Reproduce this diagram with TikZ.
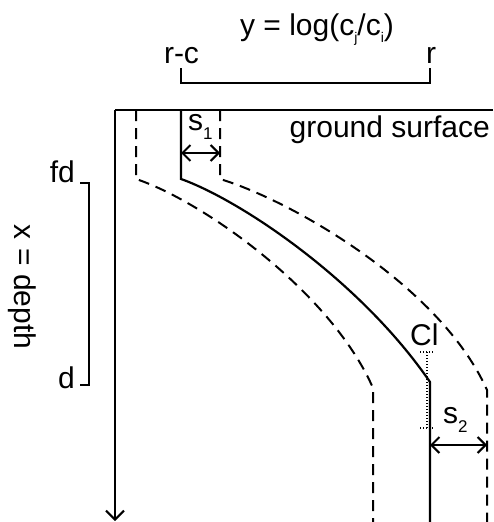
\documentclass[tikz,border=0pt]{standalone}
\usepackage{fontspec}
\setmainfont{Liberation Sans}
\usetikzlibrary{arrows.meta}
\begin{document}
\begin{tikzpicture}[x=1pt,y=-1pt,
  lab/.style={inner sep=0pt,font=\fontsize{30}{36}\selectfont},
  ln/.style={line width=2pt},
  dsh/.style={line width=2pt,dash pattern=on 11pt off 7pt},
  dot/.style={line width=1.3pt,dash pattern=on 1.3pt off 1.7pt},
  dim/.style={line width=2pt,{Straight Barb[length=8pt,width=16pt]}-{Straight Barb[length=8pt,width=16pt]}},
  axis/.style={line width=2pt,-{Straight Barb[length=9pt,width=18pt]}}]
\useasboundingbox (0,0) rectangle (493,522);
\newcommand{\sbs}[1]{\raisebox{-0.33em}{\fontsize{17}{17}\selectfont #1}}
\newcommand{\sbt}[1]{\raisebox{-0.25em}{\fontsize{14}{14}\selectfont #1}}
% texts
\node[lab,anchor=base] (title) at (317,35) {y = log(c\sbt{j}/c\sbt{i})};
\node[lab,anchor=base] (rc) at (181.5,63) {r-c};
\node[lab,anchor=base] (r) at (431,63) {r};
\node[lab,anchor=base east] (gs) at (490,137) {ground surface};
\node[lab,anchor=base west] (s1) at (188,130) {s\sbs{1}};
\node[lab,anchor=base west] (s2) at (443,423) {s\sbs{2}};
\node[lab,anchor=base west] (cl) at (410,345) {Cl};
\node[lab,anchor=base east] (fd) at (75,182) {fd};
\node[lab,anchor=base east] (d) at (75,388) {d};
\node[lab,rotate=-90] (xd) at (22,287) {x = depth};
% coordinates
\coordinate (gl) at (115,110);
\coordinate (gr) at (493,110);
\coordinate (ab) at (115,521);
\coordinate (b1) at (181,83);
\coordinate (b2) at (430,83);
\coordinate (f1) at (80,183);
\coordinate (f2) at (89,183);
\coordinate (d1) at (80,385);
\coordinate (d2) at (89,385);
% ground and axis
\draw[ln] (gr) -- (gl);
\draw[axis] (gl) -- (ab);
% top bracket
\draw[ln] ([yshift=15pt]b1) -- (b1) -- (b2) -- ([yshift=15pt]b2);
% fd-d bracket
\draw[ln] (f1) -- (f2) -- (d2) -- (d1);
% solid profile
\coordinate (m0) at (181,110);
\coordinate (m1) at (181,179);
\coordinate (m2) at (430,382);
\coordinate (m3) at (430,522);
\draw[ln,line width=2.2pt] (m0) -- (m1) .. controls (240,200) and (360,280) .. (m2) -- (m3);
% left dashed
\coordinate (l0) at (136,110);
\coordinate (l1) at (136,179);
\coordinate (l2) at (373,388);
\coordinate (l3) at (373,522);
\draw[dsh] (l0) -- (l1) .. controls (200,200) and (330,290) .. (l2) -- (l3);
% right dashed
\coordinate (q0) at (220,110);
\coordinate (q1) at (220,179);
\coordinate (q2) at (487,390);
\coordinate (q3) at (487,522);
\draw[dsh] (q0) -- (q1) .. controls (290,200) and (440,285) .. (q2) -- (q3);
% dimension arrows
\coordinate (s1a) at (181,153);
\coordinate (s1b) at (220,153);
\draw[dim] (s1a) -- (s1b);
\coordinate (s2a) at (430,445);
\coordinate (s2b) at (487,445);
\draw[dim] (s2a) -- (s2b);
% dotted marker
\coordinate (t1) at (420,352);
\coordinate (t2) at (434,352);
\coordinate (t3) at (427,352);
\coordinate (t4) at (427,428);
\coordinate (t5) at (420,428);
\coordinate (t6) at (434,428);
\draw[dot] (t1) -- (t2);
\draw[dot] (t3) -- (t4);
\draw[dot] (t5) -- (t6);
\end{tikzpicture}
\end{document}
